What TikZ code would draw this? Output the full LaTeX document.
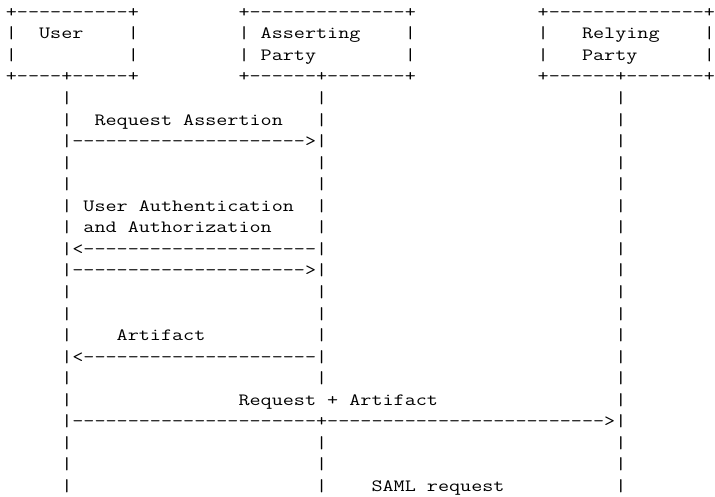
\documentclass[tikz,border=0pt]{standalone}
\usepackage{fontspec}
\usepackage{graphicx}
\setmonofont{Latin Modern Mono}
\ExplSyntaxOn
\cs_new:Npn \dd #1 { \prg_replicate:nn {#1} {-} }
\ExplSyntaxOff
\newcommand\ascfont{\ttfamily\fontsize{17.2pt}{21.55pt}\selectfont}
\newlength\cw \setlength\cw{11.08pt}
\newlength\rh \setlength\rh{21.55pt}
\newlength\adv
\settowidth\adv{\ascfont -}
\pgfmathsetmacro\xs{11.08/\adv}
\tikzset{asc/.style={anchor=base west, inner sep=0pt, outer sep=0pt,
  font=\ascfont, text=black}}
\newcommand\seg[4]{\node[asc] (#1) at ({5.9pt+#2*\cw},{478.7pt-#3*\rh}) {\scalebox{\xs}[1]{#4}};}
\begin{document}
\begin{tikzpicture}
\useasboundingbox (0,0) rectangle (715pt,496pt);
% boxes
\seg{ut}{0}{0}{+\dd{10}+}
\seg{at}{21}{0}{+\dd{14}+}
\seg{pt}{48}{0}{+\dd{14}+}
\seg{ul1}{0}{1}{|}\seg{user}{3}{1}{User}\seg{ur1}{11}{1}{|}
\seg{al1}{21}{1}{|}\seg{ap1}{23}{1}{Asserting}\seg{ar1}{36}{1}{|}
\seg{pl1}{48}{1}{|}\seg{rp1}{52}{1}{Relying}\seg{pr1}{63}{1}{|}
\seg{ul2}{0}{2}{|}\seg{ur2}{11}{2}{|}
\seg{al2}{21}{2}{|}\seg{ap2}{23}{2}{Party}\seg{ar2}{36}{2}{|}
\seg{pl2}{48}{2}{|}\seg{rp2}{52}{2}{Party}\seg{pr2}{63}{2}{|}
\seg{ub}{0}{3}{+\dd{4}+\dd{5}+}
\seg{ab}{21}{3}{+\dd{6}+\dd{7}+}
\seg{pb}{48}{3}{+\dd{6}+\dd{7}+}
% plain lifeline rows
\foreach \r in {4,7,8,13,14,17,20,21}{
  \seg{u\r}{5}{\r}{|}\seg{a\r}{28}{\r}{|}\seg{p\r}{55}{\r}{|}
}
% messages
\seg{u5}{5}{5}{|}\seg{m1}{8}{5}{Request Assertion}\seg{a5}{28}{5}{|}\seg{p5}{55}{5}{|}
\seg{arr1}{5}{6}{|\dd{21}>|}\seg{p6}{55}{6}{|}
\seg{u9}{5}{9}{|}\seg{m2}{7}{9}{User Authentication}\seg{a9}{28}{9}{|}\seg{p9}{55}{9}{|}
\seg{u10}{5}{10}{|}\seg{m2b}{7}{10}{and Authorization}\seg{a10}{28}{10}{|}\seg{p10}{55}{10}{|}
\seg{arr2}{5}{11}{|<\dd{21}|}\seg{p11}{55}{11}{|}
\seg{arr3}{5}{12}{|\dd{21}>|}\seg{p12}{55}{12}{|}
\seg{u15}{5}{15}{|}\seg{m3}{10}{15}{Artifact}\seg{a15}{28}{15}{|}\seg{p15}{55}{15}{|}
\seg{arr4}{5}{16}{|<\dd{21}|}\seg{p16}{55}{16}{|}
\seg{u18}{5}{18}{|}\seg{m4}{21}{18}{Request + Artifact}\seg{p18}{55}{18}{|}
\seg{arr5}{5}{19}{|\dd{22}+\dd{25}>|}
\seg{u22}{5}{22}{|}\seg{a22}{28}{22}{|}\seg{m5}{33}{22}{SAML request}\seg{p22}{55}{22}{|}
\end{tikzpicture}
\end{document}
